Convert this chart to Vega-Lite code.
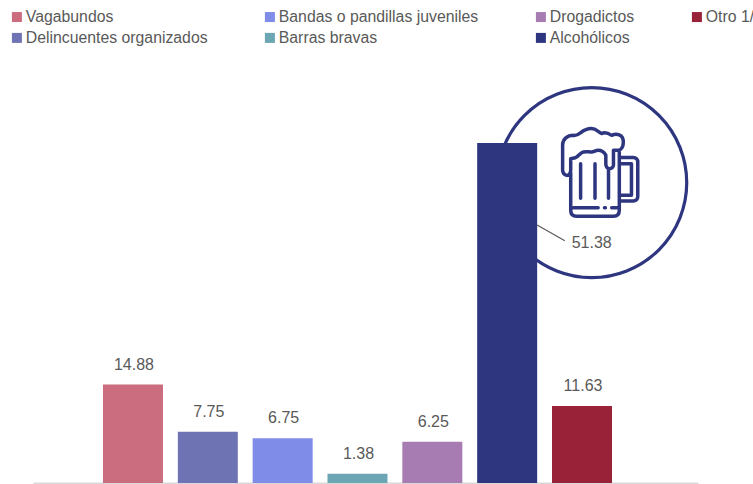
{
"$schema":"https://vega.github.io/schema/vega-lite/v6.json",
"width":665,"height":483,
"autosize":"none",
"padding":{"left":33,"top":0,"right":55,"bottom":1},
"background":"white",
"config":{"view":{"stroke":null},"font":"Liberation Sans"},
"datasets":{
"bars":[
{"i":1,"cat":"Vagabundos","v":14.88},
{"i":2,"cat":"Delincuentes organizados","v":7.75},
{"i":3,"cat":"Bandas o pandillas juveniles","v":6.75},
{"i":4,"cat":"Barras bravas","v":1.38},
{"i":5,"cat":"Drogadictos","v":6.25},
{"i":6,"cat":"Alcohólicos","v":51.38},
{"i":7,"cat":"Otro 1/","v":11.63}
],
"circle":[{"i":7.13,"v":45.4}],
"icon":[{"i":7.24,"v":46.9}],
"leader":[{"i":6.4,"v":39.0},{"i":6.77,"v":36.6}],
"bigLabel":[{"i":7.13,"v":36.3,"t":"51.38"}]
},
"encoding":{
 "x":{"field":"i","type":"quantitative","scale":{"domain":[-0.336,8.55],"nice":false,"zero":false,"padding":0},"axis":{"title":null,"labels":false,"ticks":false,"grid":false,"domainColor":"#d9d9d9","domainWidth":2}},
 "y":{"field":"v","type":"quantitative","scale":{"domain":[0,73],"nice":false},"axis":null}
},
"layer":[
{"data":{"name":"circle"},"mark":{"type":"point","filled":false,"size":36100,"stroke":"#2e3680","strokeWidth":3.2,"fill":"white","fillOpacity":1,"clip":false}},
{"data":{"name":"bars"},"mark":{"type":"bar","width":60},
 "encoding":{
 "color":{"field":"cat","type":"nominal","scale":{"domain":["Vagabundos","Bandas o pandillas juveniles","Drogadictos","Otro 1/","Delincuentes organizados","Barras bravas","Alcohólicos"],"range":["#cc6d7f","#7f8ce8","#a67cb3","#992239","#6e73b3","#6ca5b3","#2e3680"]},
 "legend":{"title":null,"orient":"none","legendX":-24,"legendY":9,"columns":4,"direction":"horizontal","symbolType":"square","symbolSize":100,"symbolStrokeWidth":0,"labelFontSize":15.8,"labelColor":"#595959","labelFont":"Liberation Sans","labelLimit":300,"columnPadding":54,"rowPadding":4,"gridAlign":"each","labelOffset":1,"symbolOpacity":1}}}},
{"data":{"name":"bars"},"transform":[{"filter":"datum.v<50"}],"mark":{"type":"text","baseline":"bottom","dy":-12,"dx":1,"fontSize":16,"color":"#595959"},
 "encoding":{"text":{"field":"v","type":"quantitative","format":".2f"}}},
{"data":{"name":"leader"},"mark":{"type":"line","color":"#595959","strokeWidth":1.2}},
{"data":{"name":"bigLabel"},"mark":{"type":"text","fontSize":16,"color":"#595959"},
 "encoding":{"text":{"field":"t"}}},
{"data":{"name":"icon"},"mark":{"type":"point","filled":false,"size":8100,"stroke":"#2e3680","strokeWidth":3.5,"strokeCap":"round","strokeJoin":"round","opacity":1,
 "shape":"M-0.74 0.06 C-0.8 0.04 -0.83 0 -0.83 -0.06 L-0.83 -0.61 C-0.83 -0.75 -0.72 -0.83 -0.59 -0.83 C-0.45 -0.8 -0.42 -0.98 -0.19 -0.98 C-0.08 -0.98 -0.04 -0.9 0.04 -0.87 C0.12 -0.92 0.2 -0.87 0.26 -0.83 C0.36 -0.88 0.52 -0.86 0.52 -0.68 C0.52 -0.58 0.47 -0.5 0.41 -0.5 L0.3 -0.5 L0.3 -0.17 C0.3 -0.12 0.26 -0.09 0.21 -0.09 C0.16 -0.09 0.13 -0.14 0.13 -0.2 L0.13 -0.39 C0.08 -0.48 0 -0.5 -0.04 -0.5 C-0.1 -0.5 -0.13 -0.46 -0.19 -0.46 C-0.26 -0.46 -0.3 -0.48 -0.37 -0.46 C-0.45 -0.44 -0.48 -0.35 -0.55 -0.33 L-0.65 -0.31 L-0.65 -0.06 C-0.65 0 -0.68 0.06 -0.74 0.06 Z M-0.65 0 L-0.65 0.83 C-0.65 0.92 -0.6 0.97 -0.52 0.97 L0.3 0.97 C0.38 0.97 0.43 0.92 0.43 0.83 L0.43 -0.5 M-0.59 0.78 L-0.04 0.78 M0.1 0.78 L0.12 0.78 M0.26 0.78 L0.41 0.78 M-0.43 -0.2 L-0.43 0.57 M-0.11 -0.2 L-0.11 0.57 M0.19 -0.05 L0.19 0.57 M0.44 -0.34 L0.74 -0.34 C0.8 -0.34 0.84 -0.3 0.84 -0.24 L0.84 0.53 C0.84 0.59 0.8 0.63 0.74 0.63 L0.44 0.63 M0.44 -0.2 L0.7 -0.2 L0.7 0.5 L0.44 0.5"}}
]
}
